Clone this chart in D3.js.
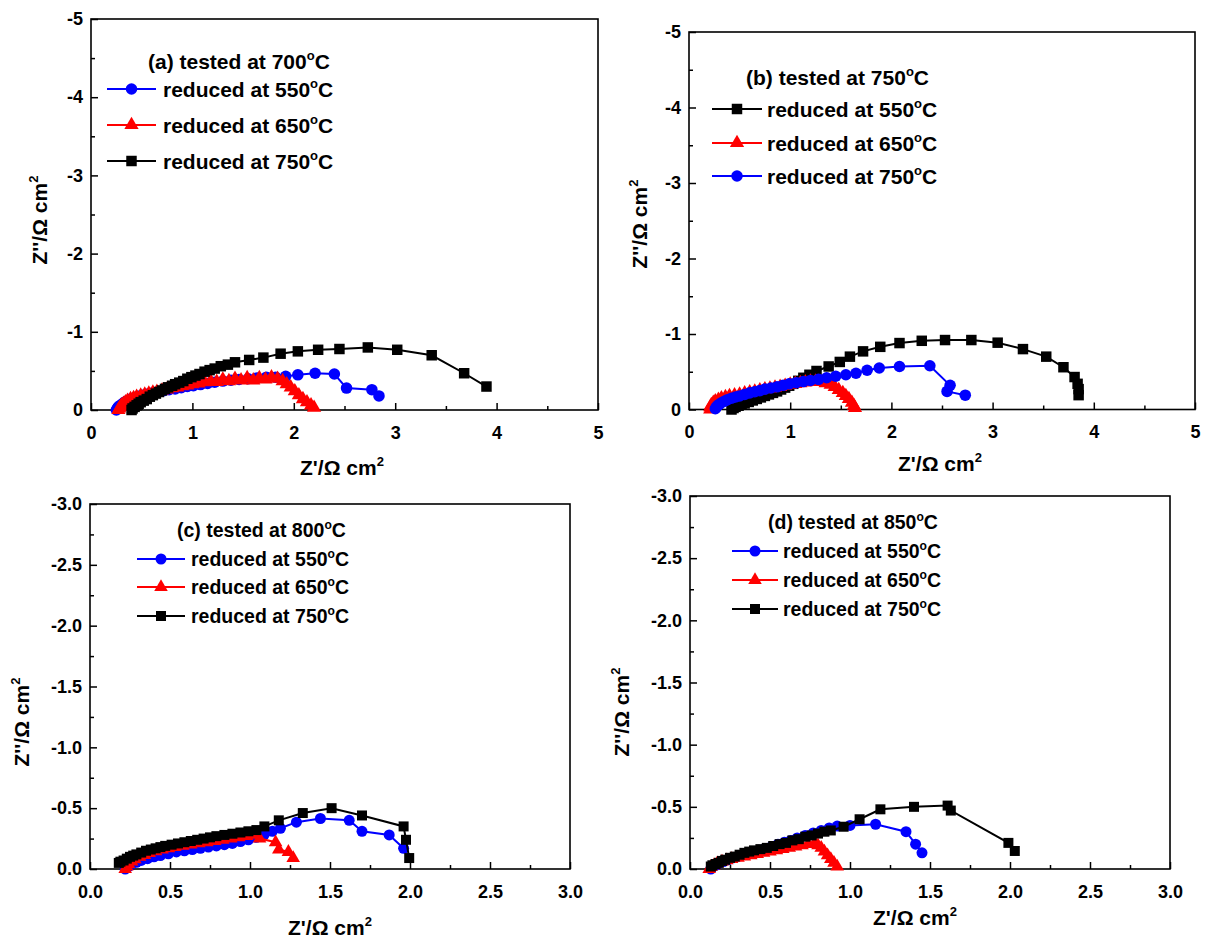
<!DOCTYPE html>
<html><head><meta charset="utf-8">
<script src="https://cdn.jsdelivr.net/npm/d3@7"></script>
<style>
body{margin:0;background:#fff}
text{font-family:"Liberation Sans",Arial,Helvetica,sans-serif;font-weight:bold;fill:#000}
</style>
</head><body>
<svg id="chart" width="1212" height="941"></svg>
<script>
// ---------- DATA: [Z' (ohm cm2), Z'' (ohm cm2)] ----------
const a_blue = [[0.25,0],[0.26,-0.02],[0.27,-0.04],[0.29,-0.06],[0.31,-0.08],[0.33,-0.10],[0.36,-0.12],[0.39,-0.14],[0.43,-0.16],[0.47,-0.175],[0.51,-0.19],[0.56,-0.205],[0.61,-0.22],[0.66,-0.23],[0.71,-0.245],[0.77,-0.26],[0.83,-0.27],[0.89,-0.285],[0.95,-0.30],[1.01,-0.31],[1.08,-0.325],[1.15,-0.34],[1.22,-0.355],[1.30,-0.37],[1.38,-0.38],[1.46,-0.39],[1.55,-0.40],[1.64,-0.41],[1.73,-0.42],[1.82,-0.42],[1.92,-0.43],[2.04,-0.45],[2.21,-0.47],[2.40,-0.46],[2.52,-0.28],[2.77,-0.26],[2.84,-0.18]];
const a_red = [[0.27,0],[0.28,-0.02],[0.29,-0.04],[0.30,-0.06],[0.32,-0.08],[0.34,-0.10],[0.36,-0.12],[0.39,-0.14],[0.42,-0.155],[0.45,-0.17],[0.49,-0.185],[0.53,-0.20],[0.57,-0.21],[0.61,-0.225],[0.65,-0.235],[0.70,-0.25],[0.75,-0.265],[0.80,-0.28],[0.85,-0.29],[0.90,-0.305],[0.95,-0.315],[1.00,-0.33],[1.06,-0.34],[1.12,-0.355],[1.18,-0.37],[1.24,-0.36],[1.30,-0.39],[1.36,-0.37],[1.42,-0.40],[1.48,-0.38],[1.54,-0.41],[1.60,-0.38],[1.66,-0.41],[1.72,-0.39],[1.78,-0.42],[1.84,-0.40],[1.89,-0.37],[1.93,-0.33],[1.97,-0.29],[2.01,-0.24],[2.05,-0.19],[2.09,-0.14],[2.13,-0.10],[2.17,-0.06],[2.20,-0.03]];
const a_black = [[0.40,0],[0.41,-0.02],[0.43,-0.04],[0.45,-0.06],[0.47,-0.08],[0.49,-0.10],[0.52,-0.12],[0.55,-0.14],[0.58,-0.17],[0.61,-0.19],[0.64,-0.21],[0.67,-0.23],[0.70,-0.25],[0.73,-0.27],[0.76,-0.29],[0.80,-0.31],[0.83,-0.33],[0.87,-0.35],[0.91,-0.37],[0.95,-0.40],[0.99,-0.42],[1.03,-0.44],[1.07,-0.46],[1.12,-0.49],[1.17,-0.51],[1.22,-0.53],[1.28,-0.56],[1.35,-0.58],[1.42,-0.61],[1.56,-0.64],[1.70,-0.67],[1.87,-0.72],[2.04,-0.75],[2.24,-0.77],[2.45,-0.78],[2.73,-0.80],[3.02,-0.77],[3.36,-0.70],[3.68,-0.47],[3.90,-0.30]];

const b_black = [[0.42,0],[0.44,-0.02],[0.46,-0.035],[0.49,-0.05],[0.52,-0.065],[0.55,-0.08],[0.59,-0.10],[0.63,-0.12],[0.67,-0.14],[0.71,-0.16],[0.75,-0.18],[0.79,-0.20],[0.83,-0.22],[0.87,-0.24],[0.91,-0.265],[0.95,-0.29],[0.99,-0.315],[1.03,-0.34],[1.08,-0.38],[1.13,-0.42],[1.19,-0.46],[1.26,-0.51],[1.38,-0.57],[1.49,-0.63],[1.59,-0.70],[1.72,-0.77],[1.89,-0.83],[2.08,-0.88],[2.30,-0.91],[2.53,-0.92],[2.79,-0.92],[3.05,-0.885],[3.30,-0.80],[3.53,-0.70],[3.70,-0.56],[3.81,-0.43],[3.84,-0.34],[3.85,-0.27],[3.85,-0.19]];
const b_red = [[0.21,0],[0.21,-0.03],[0.22,-0.06],[0.24,-0.09],[0.26,-0.11],[0.29,-0.13],[0.32,-0.15],[0.36,-0.165],[0.40,-0.18],[0.45,-0.19],[0.50,-0.20],[0.55,-0.215],[0.60,-0.23],[0.65,-0.24],[0.70,-0.255],[0.75,-0.27],[0.80,-0.28],[0.85,-0.29],[0.90,-0.30],[0.95,-0.315],[1.00,-0.33],[1.05,-0.34],[1.10,-0.35],[1.15,-0.36],[1.20,-0.37],[1.25,-0.37],[1.30,-0.365],[1.35,-0.35],[1.40,-0.33],[1.44,-0.30],[1.48,-0.26],[1.52,-0.22],[1.55,-0.18],[1.58,-0.14],[1.61,-0.09],[1.63,-0.05],[1.64,-0.02]];
const b_blue = [[0.26,-0.01],[0.27,-0.03],[0.28,-0.05],[0.30,-0.07],[0.32,-0.09],[0.35,-0.11],[0.38,-0.13],[0.42,-0.15],[0.46,-0.165],[0.50,-0.18],[0.55,-0.20],[0.60,-0.22],[0.65,-0.235],[0.70,-0.25],[0.75,-0.27],[0.81,-0.285],[0.87,-0.30],[0.93,-0.32],[0.99,-0.34],[1.06,-0.355],[1.13,-0.37],[1.20,-0.385],[1.28,-0.40],[1.36,-0.42],[1.45,-0.44],[1.55,-0.46],[1.65,-0.48],[1.76,-0.52],[1.88,-0.55],[2.08,-0.57],[2.38,-0.58],[2.58,-0.32],[2.55,-0.24],[2.73,-0.19]];

const c_blue = [[0.22,0],[0.24,-0.02],[0.26,-0.04],[0.29,-0.055],[0.32,-0.07],[0.36,-0.085],[0.40,-0.10],[0.44,-0.11],[0.49,-0.125],[0.54,-0.14],[0.59,-0.15],[0.64,-0.16],[0.69,-0.17],[0.74,-0.18],[0.79,-0.19],[0.84,-0.20],[0.89,-0.21],[0.94,-0.225],[0.99,-0.24],[1.04,-0.26],[1.09,-0.285],[1.14,-0.31],[1.19,-0.335],[1.29,-0.385],[1.44,-0.415],[1.62,-0.40],[1.70,-0.31],[1.87,-0.28],[1.96,-0.17]];
const c_red = [[0.22,0],[0.23,-0.02],[0.24,-0.04],[0.26,-0.06],[0.28,-0.08],[0.31,-0.10],[0.34,-0.115],[0.37,-0.13],[0.41,-0.145],[0.45,-0.16],[0.49,-0.17],[0.53,-0.18],[0.58,-0.19],[0.63,-0.20],[0.68,-0.21],[0.73,-0.22],[0.78,-0.23],[0.83,-0.24],[0.88,-0.25],[0.93,-0.26],[0.98,-0.27],[1.02,-0.28],[1.06,-0.25],[1.16,-0.22],[1.18,-0.16],[1.24,-0.14],[1.27,-0.09]];
const c_black = [[0.18,-0.05],[0.19,-0.06],[0.21,-0.07],[0.23,-0.085],[0.25,-0.10],[0.27,-0.11],[0.29,-0.12],[0.32,-0.135],[0.35,-0.15],[0.38,-0.16],[0.41,-0.17],[0.44,-0.18],[0.47,-0.19],[0.51,-0.20],[0.55,-0.21],[0.59,-0.22],[0.63,-0.23],[0.67,-0.24],[0.71,-0.25],[0.75,-0.26],[0.79,-0.27],[0.84,-0.28],[0.89,-0.29],[0.94,-0.30],[0.99,-0.31],[1.04,-0.32],[1.09,-0.35],[1.18,-0.40],[1.33,-0.46],[1.51,-0.50],[1.70,-0.44],[1.96,-0.35],[1.975,-0.24],[1.995,-0.09]];

const d_blue = [[0.13,0],[0.14,-0.015],[0.16,-0.03],[0.18,-0.045],[0.21,-0.06],[0.24,-0.075],[0.27,-0.09],[0.31,-0.105],[0.35,-0.12],[0.39,-0.135],[0.43,-0.15],[0.47,-0.165],[0.51,-0.18],[0.55,-0.20],[0.59,-0.215],[0.63,-0.23],[0.67,-0.25],[0.72,-0.27],[0.77,-0.29],[0.82,-0.31],[0.87,-0.33],[0.92,-0.345],[1.00,-0.35],[1.16,-0.36],[1.35,-0.30],[1.41,-0.20],[1.45,-0.13]];
const d_red = [[0.12,0],[0.13,-0.015],[0.15,-0.03],[0.17,-0.045],[0.20,-0.06],[0.23,-0.07],[0.26,-0.08],[0.30,-0.09],[0.34,-0.10],[0.38,-0.11],[0.42,-0.12],[0.46,-0.13],[0.50,-0.14],[0.54,-0.15],[0.58,-0.16],[0.62,-0.17],[0.66,-0.18],[0.70,-0.19],[0.74,-0.20],[0.78,-0.21],[0.80,-0.19],[0.82,-0.17],[0.84,-0.14],[0.86,-0.11],[0.88,-0.08],[0.90,-0.05],[0.92,-0.02]];
const d_black = [[0.13,-0.02],[0.14,-0.03],[0.16,-0.04],[0.18,-0.05],[0.20,-0.065],[0.22,-0.075],[0.25,-0.09],[0.28,-0.10],[0.31,-0.115],[0.34,-0.13],[0.37,-0.14],[0.40,-0.15],[0.44,-0.16],[0.48,-0.17],[0.52,-0.185],[0.56,-0.20],[0.60,-0.21],[0.64,-0.23],[0.68,-0.24],[0.72,-0.26],[0.76,-0.27],[0.80,-0.285],[0.84,-0.30],[0.88,-0.31],[0.96,-0.34],[1.06,-0.40],[1.19,-0.48],[1.40,-0.50],[1.61,-0.51],[1.63,-0.47],[1.99,-0.21],[2.03,-0.145]];

// ---------- TICKS / LABELS ----------
const xTicksAB = [0,1,2,3,4,5];
const xMinorAB = [0.5,1.5,2.5,3.5,4.5];
const yTicksAB = [0,-1,-2,-3,-4,-5];
const yMinorAB = [-0.5,-1.5,-2.5,-3.5,-4.5];
const xTicksCD = [0,0.5,1.0,1.5,2.0,2.5,3.0];
const xMinorCD = [0.25,0.75,1.25,1.75,2.25,2.75];
const yTicksCD = [0,-0.5,-1.0,-1.5,-2.0,-2.5,-3.0];
const yMinorCD = [-0.25,-0.75,-1.25,-1.75,-2.25,-2.75];
const panelTitles = ["(a) tested at 700", "(b) tested at 750", "(c) tested at 800", "(d) tested at 850"];
const reduceLabels = ["reduced at 550", "reduced at 650", "reduced at 750"];

const COL = {blue:"#0000ff", red:"#ff0000", black:"#000000"};
const SYM = {circle:d3.symbolCircle, triangle:d3.symbolTriangle, square:d3.symbolSquare};

const fmtInt = d => String(d);
const fmtOne = d => Math.abs(d) < 1e-9 ? "0.0" : d.toFixed(1);

const panels = [
  {box:[91,19,598,410], xDom:[0,5], yDom:[0,-5], xT:xTicksAB, xM:xMinorAB, yT:yTicksAB, yM:yMinorAB, fmt:fmtInt,
   title:panelTitles[0], series:[
     {data:a_blue, c:"blue", s:"circle", lab:reduceLabels[0]},
     {data:a_red, c:"red", s:"triangle", lab:reduceLabels[1]},
     {data:a_black, c:"black", s:"square", lab:reduceLabels[2]}],
   leg:{tx:148, ty:61, rows:[89,125,161], l0:107, l1:156, txt:163, fs:21}, ms:1.1,
   yTitle:[40,220], xTitle:[342,468]},
  {box:[689,32,1195,409.5], xDom:[0,5], yDom:[0,-5], xT:xTicksAB, xM:xMinorAB, yT:yTicksAB, yM:yMinorAB, fmt:fmtInt,
   title:panelTitles[1], series:[
     {data:b_black, c:"black", s:"square", lab:reduceLabels[0]},
     {data:b_red, c:"red", s:"triangle", lab:reduceLabels[1]},
     {data:b_blue, c:"blue", s:"circle", lab:reduceLabels[2]}],
   leg:{tx:746, ty:77, rows:[109,143,176], l0:712, l1:762, txt:767, fs:21}, ms:1.1,
   yTitle:[640,224], xTitle:[940,464]},
  {box:[90,504,570,869], xDom:[0,3], yDom:[0,-3], xT:xTicksCD, xM:xMinorCD, yT:yTicksCD, yM:yMinorCD, fmt:fmtOne,
   title:panelTitles[2], series:[
     {data:c_blue, c:"blue", s:"circle", lab:reduceLabels[0]},
     {data:c_red, c:"red", s:"triangle", lab:reduceLabels[1]},
     {data:c_black, c:"black", s:"square", lab:reduceLabels[2]}],
   leg:{tx:177, ty:530, rows:[559,587,616], l0:137, l1:185, txt:191, fs:19.5}, ms:1.0,
   yTitle:[22,722], xTitle:[330,928]},
  {box:[690,496,1170,869], xDom:[0,3], yDom:[0,-3], xT:xTicksCD, xM:xMinorCD, yT:yTicksCD, yM:yMinorCD, fmt:fmtOne,
   title:panelTitles[3], series:[
     {data:d_blue, c:"blue", s:"circle", lab:reduceLabels[0]},
     {data:d_red, c:"red", s:"triangle", lab:reduceLabels[1]},
     {data:d_black, c:"black", s:"square", lab:reduceLabels[2]}],
   leg:{tx:768, ty:522, rows:[551,580,609], l0:732, l1:778, txt:783, fs:19.5}, ms:1.0,
   yTitle:[622,712], xTitle:[915,918]}
];

const svg = d3.select("#chart");

function degText(sel, base, fs) {
  sel.append("tspan").text(base);
  sel.append("tspan").attr("font-size", fs*0.62).attr("dy", -fs*0.42).text("o");
  sel.append("tspan").attr("font-size", fs).attr("dy", fs*0.42).text("C");
}
function unitText(sel, base, fs) {
  sel.append("tspan").text(base + "/\u03A9 cm");
  sel.append("tspan").attr("font-size", fs*0.62).attr("dy", -fs*0.45).text("2");
}

panels.forEach(p => {
  const [x0,y0,x1,y1] = p.box;
  const x = d3.scaleLinear().domain(p.xDom).range([x0,x1]);
  const y = d3.scaleLinear().domain(p.yDom).range([y1,y0]);
  const g = svg.append("g");

  g.append("g").attr("transform",`translate(0,${y1})`)
    .call(d3.axisBottom(x).tickValues(p.xT).tickSize(-7).tickPadding(16).tickFormat(p.fmt));
  g.append("g").attr("transform",`translate(0,${y1})`)
    .call(d3.axisBottom(x).tickValues(p.xM).tickSize(-4).tickFormat(""));
  g.append("g").attr("transform",`translate(${x0},0)`)
    .call(d3.axisLeft(y).tickValues(p.yT).tickSize(-7).tickPadding(8).tickFormat(p.fmt));
  g.append("g").attr("transform",`translate(${x0},0)`)
    .call(d3.axisLeft(y).tickValues(p.yM).tickSize(-4).tickFormat(""));
  g.selectAll(".domain").remove();
  g.selectAll(".tick line").attr("stroke","#000").attr("stroke-width",1.5);
  g.selectAll(".tick text").attr("font-size",18).attr("font-family","Liberation Sans, Arial, sans-serif").attr("font-weight","bold").attr("fill","#000");

  g.append("rect").attr("x",x0).attr("y",y0).attr("width",x1-x0).attr("height",y1-y0)
    .attr("fill","none").attr("stroke","#000").attr("stroke-width",1.6);

  const line = d3.line().x(d=>x(d[0])).y(d=>y(d[1]));
  const sz = {circle:95, triangle:80, square:100};
  p.series.forEach(s => {
    g.append("path").datum(s.data).attr("d",line).attr("fill","none")
      .attr("stroke",COL[s.c]).attr("stroke-width",2);
    g.selectAll(null).data(s.data).enter().append("path")
      .attr("transform",d=>`translate(${x(d[0])},${y(d[1])})`)
      .attr("d", d3.symbol().type(SYM[s.s]).size(sz[s.s]*p.ms))
      .attr("fill",COL[s.c]);
  });

  const L = p.leg;
  const tt = g.append("text").attr("x",L.tx).attr("y",L.ty+L.fs*0.36).attr("font-size",L.fs);
  degText(tt, p.title, L.fs);
  p.series.forEach((s,i) => {
    const ry = L.rows[i];
    g.append("line").attr("x1",L.l0).attr("x2",L.l1).attr("y1",ry).attr("y2",ry)
      .attr("stroke",COL[s.c]).attr("stroke-width",2);
    g.append("path").attr("transform",`translate(${(L.l0+L.l1)/2},${ry})`)
      .attr("d", d3.symbol().type(SYM[s.s]).size(sz[s.s]*p.ms)).attr("fill",COL[s.c]);
    const t = g.append("text").attr("x",L.txt).attr("y",ry+L.fs*0.36).attr("font-size",L.fs);
    degText(t, s.lab, L.fs);
  });

  const xt = g.append("text").attr("x",p.xTitle[0]).attr("y",p.xTitle[1]+7).attr("text-anchor","middle").attr("font-size",21);
  unitText(xt, "Z'", 21);
  const yt = g.append("text").attr("transform",`translate(${p.yTitle[0]+7},${p.yTitle[1]}) rotate(-90)`)
    .attr("text-anchor","middle").attr("font-size",21);
  unitText(yt, "Z''", 21);
});
</script>
</body></html>
